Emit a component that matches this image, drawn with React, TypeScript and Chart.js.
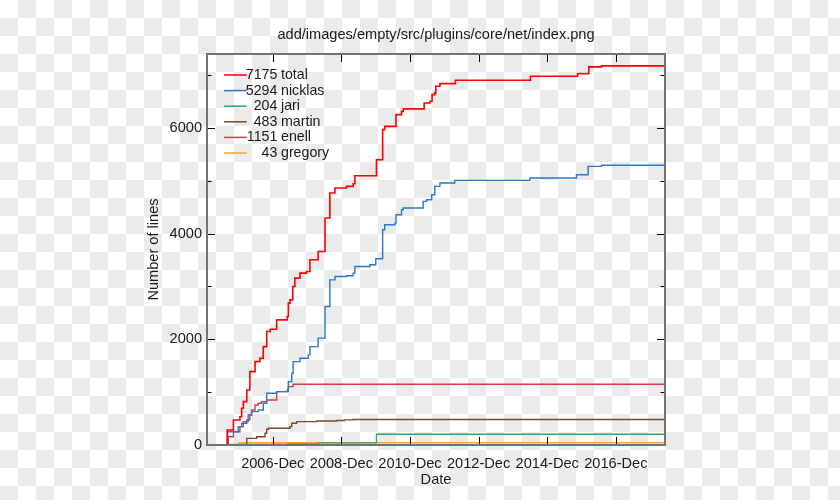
import React, { useEffect, useRef } from 'react';
import { Chart, registerables } from 'chart.js';

Chart.register(...registerables);

const FONT = '"Liberation Sans", Arial, sans-serif';
const TEXT = '#1a1a1a';

const chartTitle = 'add/images/empty/src/plugins/core/net/index.png';
const xTitle = 'Date';
const yTitle = 'Number of lines';

const xMin = 2005.0;
const xMax = 2018.35;
const yMax = 7400;

const xTickYears = [2006.917, 2008.917, 2010.917, 2012.917, 2014.917, 2016.917];
const xTickLabels = ['2006-Dec', '2008-Dec', '2010-Dec', '2012-Dec', '2014-Dec', '2016-Dec'];
const yMajorTicks = [0, 2000, 4000, 6000];
const yMinorTicks = [1000, 3000, 5000, 7000];

const seriesNames = ['total', 'nicklas', 'jari', 'martin', 'enell', 'gregory'];
const seriesColors = ['#ff0000', '#2a78c6', '#2ea860', '#7a4a28', '#d23c4e', '#ffa030'];

const totalX = [2005.0, 2005.59, 2005.77, 2005.96, 2006.01, 2006.06, 2006.16, 2006.25, 2006.4, 2006.54, 2006.64, 2006.74, 2006.84, 2007.03, 2007.34, 2007.37, 2007.42, 2007.5, 2007.56, 2007.71, 2007.9, 2008.0, 2008.24, 2008.44, 2008.58, 2008.73, 2009.07, 2009.26, 2009.31, 2009.94, 2010.12, 2010.18, 2010.51, 2010.67, 2010.72, 2011.33, 2011.5, 2011.56, 2011.64, 2011.67, 2011.79, 2012.24, 2014.43, 2015.8, 2016.13, 2016.5, 2018.35];
const totalY = [0, 284, 474, 536, 695, 820, 1042, 1389, 1578, 1643, 1862, 2147, 2192, 2368, 2431, 2685, 2747, 2999, 3158, 3253, 3284, 3505, 3662, 4295, 4769, 4864, 4894, 4945, 5097, 5400, 5968, 6031, 6253, 6315, 6361, 6474, 6505, 6632, 6664, 6789, 6840, 6902, 6978, 7029, 7156, 7175, 7175];

const nicklasX = [2005.0, 2005.6, 2005.91, 2006.01, 2006.16, 2006.25, 2006.3, 2006.49, 2006.64, 2006.74, 2007.03, 2007.34, 2007.37, 2007.47, 2007.51, 2007.71, 2007.95, 2008.0, 2008.24, 2008.44, 2008.58, 2008.73, 2009.07, 2009.26, 2009.31, 2009.75, 2009.92, 2010.12, 2010.18, 2010.48, 2010.51, 2010.67, 2010.72, 2011.3, 2011.4, 2011.55, 2011.64, 2011.79, 2012.22, 2014.41, 2015.77, 2016.11, 2016.5, 2018.35];
const nicklasY = [0, 252, 347, 411, 474, 568, 631, 663, 790, 980, 1010, 1042, 1199, 1358, 1578, 1643, 1705, 1862, 2022, 2620, 3126, 3189, 3202, 3253, 3378, 3410, 3524, 4074, 4168, 4200, 4358, 4453, 4485, 4610, 4642, 4737, 4894, 4958, 5008, 5053, 5116, 5273, 5294, 5294];

const jariX = [2005.0, 2005.6, 2007.35, 2008.24, 2009.94, 2018.35];
const jariY = [0, 10, 20, 40, 204, 204];

const martinX = [2005.0, 2006.16, 2006.45, 2006.69, 2006.74, 2006.79, 2007.42, 2007.47, 2007.61, 2008.2, 2008.78, 2009.0, 2009.26, 2018.35];
const martinY = [0, 126, 157, 221, 297, 316, 347, 411, 442, 455, 465, 475, 483, 483];

const enellX = [2005.0, 2005.62, 2005.77, 2005.96, 2006.06, 2006.2, 2006.3, 2006.4, 2006.49, 2006.59, 2006.74, 2007.03, 2007.37, 2007.51, 2018.35];
const enellY = [0, 157, 252, 347, 442, 568, 663, 758, 790, 820, 853, 1010, 1105, 1151, 1151];

const gregoryX = [2005.0, 2005.94, 2018.35];
const gregoryY = [0, 43, 43];

const seriesXs = [totalX, nicklasX, jariX, martinX, enellX, gregoryX];
const seriesYs = [totalY, nicklasY, jariY, martinY, enellY, gregoryY];

const decorPlugin = {
  id: 'decor',
  afterDatasetsDraw(chart: any) {
    const { ctx, chartArea: a, scales } = chart;
    const xs = scales.x;
    const ys = scales.y;
    ctx.save();
    // ticks
    ctx.strokeStyle = '#000';
    ctx.lineWidth = 1;
    ctx.beginPath();
    xTickYears.forEach((v) => {
      const px = Math.round(xs.getPixelForValue(v)) + 0.5;
      ctx.moveTo(px, a.bottom);
      ctx.lineTo(px, a.bottom - 8);
      ctx.moveTo(px, a.top);
      ctx.lineTo(px, a.top + 8);
    });
    yMajorTicks.forEach((v) => {
      const py = Math.round(ys.getPixelForValue(v)) + 0.5;
      ctx.moveTo(a.left, py);
      ctx.lineTo(a.left + 8, py);
      ctx.moveTo(a.right, py);
      ctx.lineTo(a.right - 8, py);
    });
    yMinorTicks.forEach((v) => {
      const py = Math.round(ys.getPixelForValue(v)) + 0.5;
      ctx.moveTo(a.left, py);
      ctx.lineTo(a.left + 4.5, py);
      ctx.moveTo(a.right, py);
      ctx.lineTo(a.right - 4.5, py);
    });
    ctx.stroke();
    // frame
    ctx.strokeStyle = '#737373';
    ctx.lineWidth = 2;
    ctx.strokeRect(a.left, a.top, a.right - a.left, a.bottom - a.top);

    // titles
    ctx.fillStyle = TEXT;
    ctx.font = `14.6px ${FONT}`;
    ctx.textAlign = 'center';
    ctx.textBaseline = 'middle';
    const cx = (a.left + a.right) / 2;
    ctx.fillText(chartTitle, cx, a.top - 19.5);
    ctx.fillText(xTitle, cx, a.bottom + 35);
    ctx.save();
    ctx.translate(a.left - 53.5, (a.top + a.bottom) / 2);
    ctx.rotate(-Math.PI / 2);
    ctx.fillText(yTitle, 0, 0);
    ctx.restore();

    // legend
    ctx.font = `14.2px ${FONT}`;
    const lineX0 = a.left + 17;
    const lineX1 = a.left + 39.7;
    const numRight = a.left + 70.3;
    const nameLeft = a.left + 74;
    seriesNames.forEach((name, i) => {
      const y = a.top + 21 + i * 15.6;
      ctx.strokeStyle = seriesColors[i];
      ctx.lineWidth = 1.5;
      ctx.beginPath();
      ctx.moveTo(lineX0, y);
      ctx.lineTo(lineX1, y);
      ctx.stroke();
      const ys0 = seriesYs[i];
      const finalVal = ys0[ys0.length - 1];
      ctx.fillStyle = TEXT;
      ctx.textAlign = 'right';
      ctx.fillText(String(finalVal), numRight, y);
      ctx.textAlign = 'left';
      ctx.fillText(name, nameLeft, y);
    });
    ctx.restore();
  },
};

export default function App() {
  const canvasRef = useRef<HTMLCanvasElement | null>(null);

  useEffect(() => {
    document.body.style.margin = '0';
    const canvas = canvasRef.current;
    if (!canvas) return;
    const datasets = seriesNames.map((name, i) => ({
      label: name,
      data: seriesXs[i].map((x, j) => ({ x, y: seriesYs[i][j] })),
      borderColor: seriesColors[i],
      backgroundColor: seriesColors[i],
      borderWidth: i === 0 ? 1.6 : 1.4,
      pointRadius: 0,
      stepped: true,
      fill: false,
      order: i,
    }));
    const chart = new Chart(canvas, {
      type: 'line',
      data: { datasets },
      options: {
        animation: false,
        responsive: false,
        maintainAspectRatio: false,
        devicePixelRatio: 1,
        layout: { padding: { left: 0, right: 175, top: 54, bottom: 0 } },
        plugins: {
          legend: { display: false },
          title: { display: false },
          tooltip: { enabled: false },
        },
        scales: {
          x: {
            type: 'linear',
            min: xMin,
            max: xMax,
            afterFit: (s: any) => { s.height = 55; },
            afterBuildTicks: (s: any) => { s.ticks = xTickYears.map((v) => ({ value: v })); },
            grid: { display: false, drawTicks: false },
            border: { display: false },
            ticks: {
              autoSkip: false,
              maxRotation: 0,
              padding: 10,
              color: TEXT,
              font: { family: FONT, size: 14.6 },
              callback: (v: any) => {
                const i = xTickYears.findIndex((t) => Math.abs(t - Number(v)) < 1e-6);
                return i >= 0 ? xTickLabels[i] : '';
              },
            },
          },
          y: {
            type: 'linear',
            min: 0,
            max: yMax,
            afterFit: (s: any) => { s.width = 207; },
            afterBuildTicks: (s: any) => { s.ticks = yMajorTicks.map((v) => ({ value: v })); },
            grid: { display: false, drawTicks: false },
            border: { display: false },
            ticks: {
              padding: 5,
              color: TEXT,
              font: { family: FONT, size: 14.6 },
              callback: (v: any) => String(v),
            },
          },
        },
      },
      plugins: [decorPlugin],
    });
    return () => chart.destroy();
  }, []);

  return (
    <div
      style={{
        position: 'fixed',
        left: 0,
        top: 0,
        width: 840,
        height: 500,
        background: 'repeating-conic-gradient(#ebebeb 0% 25%, #ffffff 0% 50%) 0 0 / 36px 36px',
      }}
    >
      <canvas ref={canvasRef} width={840} height={500} style={{ display: 'block', width: 840, height: 500 }} />
    </div>
  );
}
